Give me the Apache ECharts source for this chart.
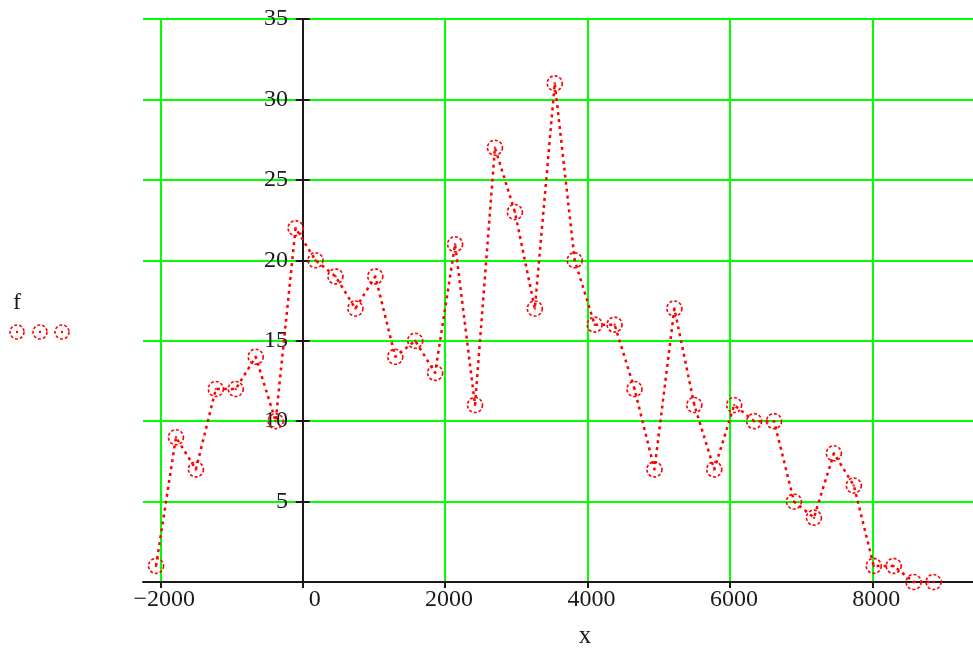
<!DOCTYPE html>
<html>
<head>
<meta charset="utf-8">
<title>f vs x</title>
<script src="https://cdn.jsdelivr.net/npm/echarts@6/dist/echarts.min.js"></script>
<style>
    html, body { margin: 0; padding: 0; background: #fff; }
    #chart { width: 973px; height: 654px; }
</style>
</head>
<body>
<div id="chart"></div>
<script>
// data
const xValues = [-2060, -1780, -1500, -1220, -940, -660, -380, -100, 180, 460,
    740, 1020, 1300, 1580, 1860, 2140, 2420, 2700, 2980, 3260,
    3540, 3820, 4100, 4380, 4660, 4940, 5220, 5500, 5780, 6060,
    6340, 6620, 6900, 7180, 7460, 7740, 8020, 8300, 8580, 8860]
const fValues = [1, 9, 7, 12, 12, 14, 10, 22, 20, 19,
    17, 19, 14, 15, 13, 21, 11, 27, 23, 17,
    31, 20, 16, 16, 12, 7, 17, 11, 7, 11,
    10, 10, 5, 4, 8, 6, 1, 1, 0, 0]
const xTicks = [-2000, 0, 2000, 4000, 6000, 8000]
const yTicks = [5, 10, 15, 20, 25, 30, 35]

const RED = '#ff0000'
const GREEN = '#00ff00'
const INK = '#1a1a1a'
const FONT = '"Liberation Serif", "DejaVu Serif", serif'

const points = xValues.map((x, i) => [x, fValues[i]])

const myChart = echarts.init(document.getElementById('chart'))
myChart.setOption({
    animation: false,
    backgroundColor: '#fff',
    grid: { left: 143, right: 0, top: 19, bottom: 69, containLabel: false },
    xAxis: {
        type: 'value',
        min: -2243,
        max: 9414,
        name: 'x',
        nameLocation: 'middle',
        nameGap: 42,
        nameTextStyle: { fontFamily: FONT, fontSize: 25, color: INK, padding: [0, 0, 0, 54] },
        axisLine: { onZero: true, onZeroAxisIndex: 0, lineStyle: { color: INK, width: 2 } },
        axisTick: { customValues: xTicks, length: 6, lineStyle: { color: INK, width: 2 } },
        axisLabel: {
            customValues: xTicks,
            margin: 6,
            color: INK,
            fontFamily: FONT,
            fontSize: 24,
            padding: [0, 0, 0, 8],
            formatter: v => v === 0 ? '{z|0}' : String(v).replace('-', '\u2212'),
            rich: { z: { fontFamily: FONT, fontSize: 24, color: INK, padding: [0, 0, 0, 16] } }
        },
        splitLine: { show: true, lineStyle: { color: GREEN, width: 2 } },
        z: 6
    },
    yAxis: [
        {
            type: 'value',
            min: 0,
            max: 35,
            interval: 5,
            axisLine: { onZero: true, onZeroAxisIndex: 0, lineStyle: { color: INK, width: 2 } },
            axisTick: { length: 7, lineStyle: { color: INK, width: 2 } },
            axisLabel: {
                customValues: yTicks,
                // labels sit next to the axis at x = 0, not at the grid edge
                margin: -145,
                color: INK,
                fontFamily: FONT,
                fontSize: 24
            },
            splitLine: { show: true, showMinLine: false, lineStyle: { color: GREEN, width: 2 } },
            z: 7
        },
        {
            // second copy only for the ticks on the right side of the axis
            type: 'value',
            position: 'left',
            min: 0,
            max: 35,
            interval: 5,
            axisLine: { show: true, onZero: true, onZeroAxisIndex: 0, lineStyle: { color: INK, width: 2 } },
            axisTick: { inside: true, length: 7, lineStyle: { color: INK, width: 2 } },
            axisLabel: { show: false },
            splitLine: { show: false },
            z: 8
        }
    ],
    series: [
        {
            name: 'f',
            type: 'line',
            data: points,
            symbol: 'circle',
            symbolSize: 15,
            lineStyle: { color: RED, width: 2.5, type: [3, 4] },
            itemStyle: { color: 'rgba(255,255,255,0)', borderColor: RED, borderWidth: 1.6, borderType: [3, 2] },
            z: 10
        },
        {
            // center dots of the circles
            name: 'f-dot',
            type: 'scatter',
            data: points,
            symbol: 'circle',
            symbolSize: 2.5,
            itemStyle: { color: RED },
            z: 11,
            silent: true
        }
    ],
    graphic: [
        {
            type: 'text',
            left: 13,
            top: 291,
            style: { text: 'f', fontFamily: FONT, fontSize: 24, fill: INK }
        },
        ...[17, 40, 62].map(cx => ({
            type: 'group',
            children: [
                {
                    type: 'circle',
                    shape: { cx: cx, cy: 332, r: 7 },
                    style: { fill: 'none', stroke: RED, lineWidth: 1.6, lineDash: [3, 2] }
                },
                {
                    type: 'circle',
                    shape: { cx: cx, cy: 332, r: 1.2 },
                    style: { fill: RED }
                }
            ]
        }))
    ]
})
</script>
</body>
</html>
